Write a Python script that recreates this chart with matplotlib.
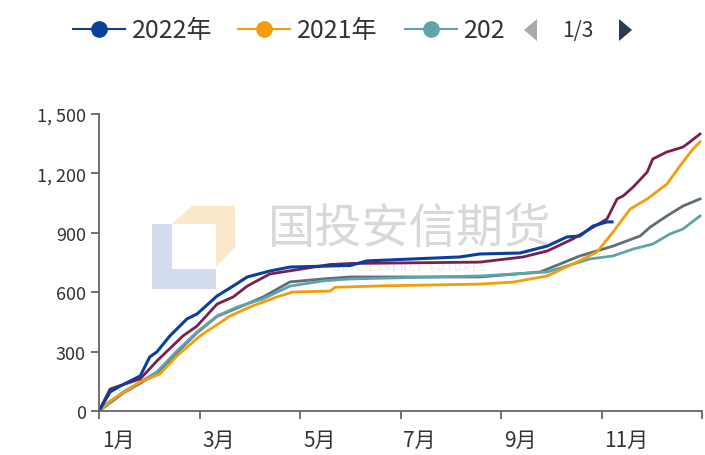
import matplotlib
matplotlib.use("Agg")
import matplotlib.pyplot as plt
from matplotlib.patches import Polygon
from matplotlib.transforms import ScaledTranslation

plt.rcParams['font.family'] = ['Noto Sans CJK SC', 'DejaVu Sans']

# ---data (x in months from Jan 1, cumulative values)---
x_2022 = [0, 0.22, 0.42, 0.82, 1.01, 1.15, 1.41, 1.75, 1.95, 2.35, 2.67, 2.95, 3.40, 3.80,
          5.00, 5.33, 7.18, 7.58, 8.38, 8.92, 9.31, 9.57, 9.83, 10.11, 10.21]
y_2022 = [0, 96, 126, 177, 273, 298, 379, 465, 490, 581, 631, 677, 707, 727,
          735, 758, 778, 793, 798, 833, 879, 884, 934, 955, 955]

x_2021 = [0, 0.22, 0.82, 1.21, 1.55, 2.01, 2.61, 3.00, 3.54, 3.86, 4.60, 4.70, 5.65,
          7.58, 8.24, 8.92, 9.51, 9.91, 10.23, 10.57, 10.91, 11.30, 11.56, 11.82, 11.96]
y_2021 = [0, 51, 146, 187, 278, 379, 480, 525, 576, 601, 606, 625, 632,
          641, 651, 682, 752, 803, 904, 1020, 1071, 1146, 1237, 1323, 1359]

x_s3 = [0, 0.48, 0.82, 1.15, 1.55, 1.95, 2.35, 2.75, 3.26, 3.80, 4.46, 5.00,
        7.58, 8.92, 9.77, 10.23, 10.63, 11.02, 11.36, 11.62, 11.96]
y_s3 = [0, 96, 146, 197, 303, 399, 480, 525, 566, 631, 657, 667,
        682, 702, 768, 783, 818, 843, 894, 919, 985]

x_s4 = [0, 0.48, 0.82, 1.15, 1.55, 1.95, 2.35, 2.75, 3.26, 3.80, 4.46, 5.00,
        7.58, 8.78, 9.57, 10.23, 10.77, 10.97, 11.30, 11.62, 11.96]
y_s4 = [0, 90, 140, 190, 295, 395, 478, 520, 575, 652, 667, 677,
        677, 702, 783, 833, 884, 929, 985, 1035, 1071]

x_s5 = [0, 0.22, 0.82, 1.15, 1.67, 1.95, 2.35, 2.67, 2.95, 3.40, 4.60, 5.00,
        7.58, 8.44, 8.92, 9.43, 9.77, 10.11, 10.31, 10.43, 10.63, 10.91, 11.02, 11.30, 11.62, 11.76, 11.96]
y_s5 = [0, 111, 162, 252, 379, 429, 540, 576, 631, 692, 740, 745,
        752, 778, 808, 869, 919, 970, 1071, 1086, 1131, 1207, 1273, 1308, 1333, 1359, 1399]

month_ticks = [0, 2, 4, 6, 8, 10, 12]
month_labels = ['1月', '3月', '5月', '7月', '9月', '11月', '']
y_ticks = [0, 300, 600, 900, 1200, 1500]
y_labels = ['0', '300', '600', '900', '1, 200', '1, 500']

legend_names = ['2022年', '2021年', '202']
c_2022, c_2021, c_s3, c_s4, c_s5 = '#0a3f9e', '#f59c0a', '#5fa4aa', '#5e6d77', '#7a1f4e'

fig = plt.figure(figsize=(7.05, 4.56), dpi=100)

# watermark + legend layer in pixel coords
bg = fig.add_axes([0, 0, 1, 1], zorder=0)
bg.set_xlim(0, 705)
bg.set_ylim(456, 0)
bg.axis('off')
bg.add_patch(Polygon([(152, 225), (172, 225), (172, 270), (216, 270), (216, 290), (152, 290)],
                     closed=True, fc='#d4dcef', ec='none'))
bg.add_patch(Polygon([(172, 225), (192, 207), (235, 207), (235, 248), (216, 268), (216, 225)],
                     closed=True, fc='#fbe7cc', ec='none'))
bg.text(410, 230, '国投安信期货', fontsize=34, color='#d8d8d8', ha='center', va='center')
bg.text(410, 268, 'S D I C   E S S E N C E   F U T U R E S', fontsize=7, color='#e6e6e6',
        ha='center', va='center')

for lx, name, col in zip([73, 238, 405], legend_names, [c_2022, c_2021, c_s3]):
    bg.plot([lx, lx + 52], [30, 30], color=col, lw=1.5)
    bg.plot([lx + 26], [30], 'o', color=col, ms=11)
    bg.text(lx + 59, 31, name, fontsize=18, color='#333333', va='center', ha='left')
bg.add_patch(Polygon([(524, 31), (537, 20), (537, 42)], closed=True, fc='#aaaaaa', ec='none'))
bg.text(578, 31, '1/3', fontsize=15, color='#333333', va='center', ha='center')
bg.add_patch(Polygon([(619, 20), (632, 31), (619, 42)], closed=True, fc='#2b3d4d', ec='none'))

ax = fig.add_axes([99 / 705, 44 / 456, 603 / 705, 297 / 456], zorder=1)
ax.patch.set_alpha(0)

ax.plot(x_s4, y_s4, color=c_s4, lw=2)
ax.plot(x_s3, y_s3, color=c_s3, lw=2)
ax.plot(x_2021, y_2021, color=c_2021, lw=2)
ax.plot(x_s5, y_s5, color=c_s5, lw=2)
ax.plot(x_2022, y_2022, color=c_2022, lw=2.2)

ax.set_xlim(0, 12)
ax.set_ylim(0, 1500)
ax.set_xticks(month_ticks)
ax.set_xticklabels(month_labels, ha='left')
ax.set_yticks(y_ticks)
ax.set_yticklabels(y_labels)
for s in ['top', 'right']:
    ax.spines[s].set_visible(False)
for s in ['left', 'bottom']:
    ax.spines[s].set_color('#666666')
    ax.spines[s].set_linewidth(1.3)
ax.tick_params(length=6, width=1.3, color='#666666', labelsize=13, labelcolor='#333333')
ax.tick_params(axis='x', pad=7, labelsize=15)
shift = ScaledTranslation(3 / 100, 0, fig.dpi_scale_trans)
for lab in ax.get_xticklabels():
    lab.set_transform(lab.get_transform() + shift)

plt.savefig("out.png", dpi=100)
